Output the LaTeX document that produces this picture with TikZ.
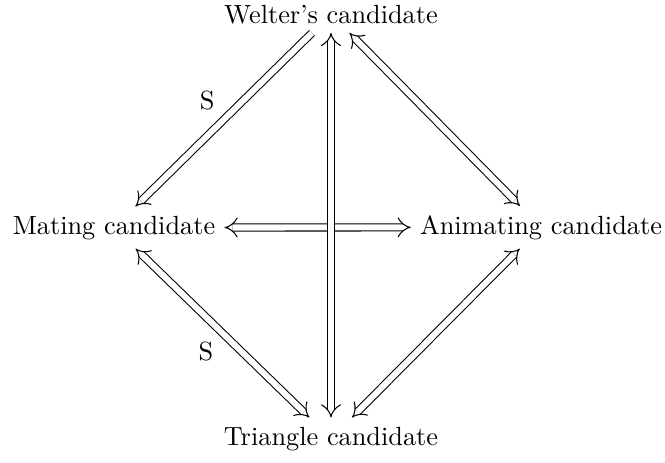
\documentclass[tikz,border=0pt]{standalone}
\usetikzlibrary{arrows.meta,cd}
\begin{document}
\begin{tikzpicture}[x=0.3802pt,y=-0.3802pt,
  obj/.style={anchor=base},
  dbl/.style={double, double distance=2.3pt, line width=0.4pt},
  both/.style={dbl, {tikzcd implies}-{tikzcd implies}},
  one/.style={dbl, -{tikzcd implies}}]
\useasboundingbox (0,0) rectangle (665,462);
\node[obj] (W) at (331,23) {Welter's candidate};
\node[obj] (M) at (114,234) {Mating candidate};
\node[obj] (A) at (541,234) {Animating candidate};
\node[obj] (T) at (331,445) {Triangle candidate};
\draw[one] (W) -- node[anchor=south east] {S} (M);
\draw[both] (W) -- (A);
\draw[both] (M) -- (A);
\draw[both] (W) -- (T);
\draw[both] (M) -- node[anchor=north east] {S} (T);
\draw[both] (A) -- (T);
\end{tikzpicture}
\end{document}
